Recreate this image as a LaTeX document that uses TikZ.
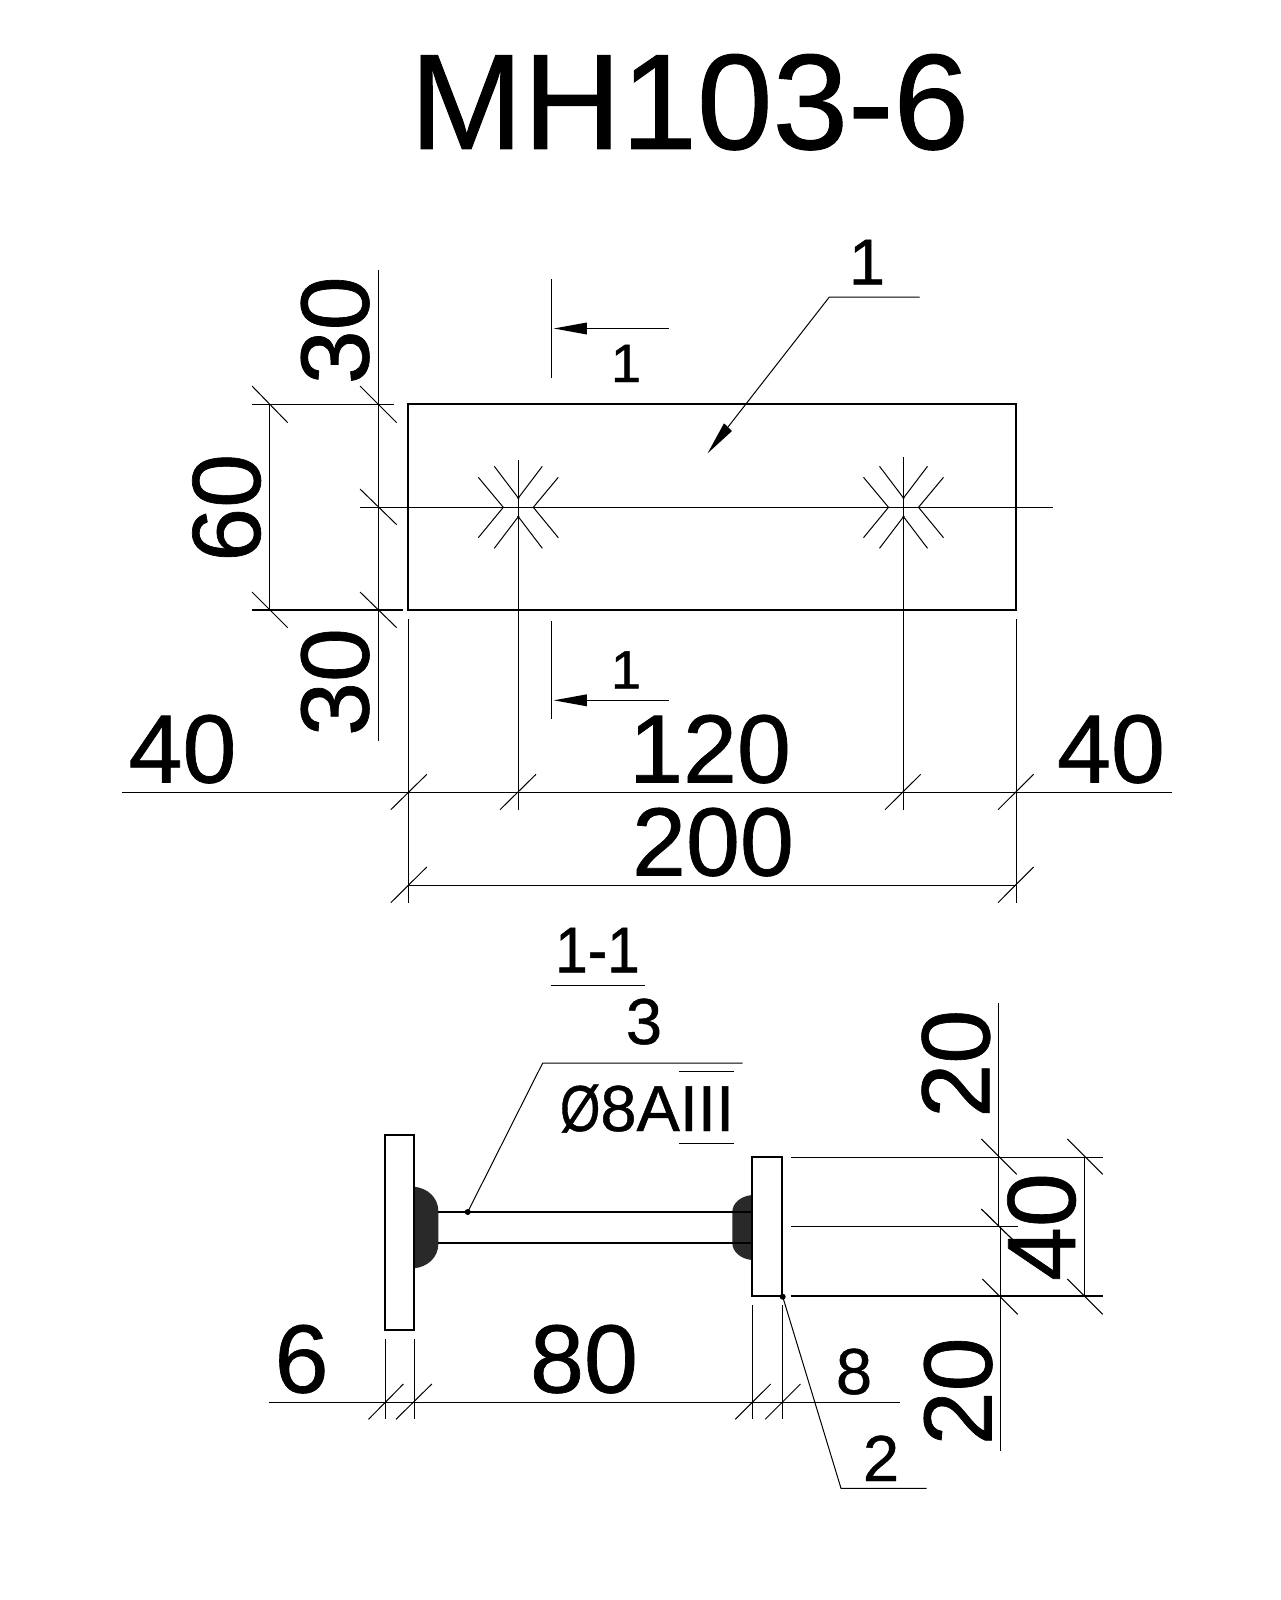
\documentclass[tikz,border=0pt]{standalone}
\usepackage{fontspec}
\setmainfont{Liberation Sans}
\usepackage{graphicx}
\newfontfamily\dwgfont[FakeBold=0.7]{Liberation Sans}
\tikzset{
  txt/.style={inner sep=0pt,anchor=base},
  titletxt/.style={txt,font=\dwgfont\fontsize{136}{136}\selectfont},
  bigtxt/.style={txt,font=\dwgfont\fontsize{97}{97}\selectfont},
  midtxt/.style={txt,font=\dwgfont\fontsize{65}{65}\selectfont},
  smalltxt/.style={txt,font=\dwgfont\fontsize{54}{54}\selectfont},
  vert/.style={rotate=90},
  thinln/.style={line width=1.2pt,black},
  hairln/.style={line width=1pt,black},
  part/.style={line width=2pt,black},
  rodln/.style={line width=1.6pt,black},
  weld/.style={fill=black!84,draw=none},
  tipfill/.style={fill=black,draw=none},
  dotfill/.style={fill=black,draw=none}
}
\begin{document}
\begin{tikzpicture}[x=1pt,y=-1pt]
\useasboundingbox (0,0) rectangle (1280,1600);
\fill[white] (0,0) rectangle (1280,1600);

% title
\node[titletxt] (title) at (689.5,149) {MH103-6};

% plate in plan
\draw[part] (408,404.3) rectangle (1016.4,610);

% axis lines
\draw[thinln] (360,507.3) -- (1053,507.3);
\draw[thinln] (518.3,460) -- (518.3,809.5);
\draw[thinln] (903.5,457) -- (903.5,809.5);

% hole marks
\foreach \cx in {518.3,903.5}{
  \begin{scope}[shift={(\cx,0)}]
    \draw[hairln] (-24,466.3) -- (0,498) -- (24,466.3);
    \draw[hairln] (-24,548.3) -- (0,516.7) -- (24,548.3);
    \draw[hairln] (-40,477.3) -- (-15,507.3) -- (-40,537.7);
    \draw[hairln] (40,477.3) -- (15,507.3) -- (40,537.7);
    \fill[dotfill] (0,498) circle (1.2);
    \fill[dotfill] (0,516.7) circle (1.2);
  \end{scope}
}

% left dimensions of the plan
\draw[thinln] (378.4,270) -- (378.4,740.7);
\draw[thinln] (269.3,404.3) -- (269.3,610);
\draw[thinln] (252,404.3) -- (394,404.3);
\draw[thinln] (252,610) -- (402.7,610);
\draw[hairln] (252,386) -- (287.7,422.7);
\draw[hairln] (360,386) -- (396.7,422.7);
\draw[hairln] (360,489) -- (396.7,524.7);
\draw[hairln] (252,592) -- (287.7,627.7);
\draw[hairln] (360,592) -- (396.7,627.7);
\node[bigtxt,vert] (d30a) at (368.5,330.3) {30};
\node[bigtxt,vert] (d60) at (260,507.8) {60};
\node[bigtxt,vert] (d30b) at (368.5,682) {30};

% section marks
\draw[thinln] (551.2,279.3) -- (551.2,377.7);
\draw[thinln] (586,328.5) -- (668.7,328.5);
\fill[tipfill] (553.8,328.5) -- (586.8,322.5) -- (586.8,334.5) -- cycle;
\node[smalltxt] (s1a) at (626,382) {1};
\draw[thinln] (551.2,621) -- (551.2,719.3);
\draw[thinln] (586,700.3) -- (669,700.3);
\fill[tipfill] (553.8,700.3) -- (586.8,694.3) -- (586.8,706.3) -- cycle;
\node[smalltxt] (s1b) at (626,688.5) {1};

% leader 1
\draw[hairln] (919.7,297.2) -- (829.2,297.2) -- (728,427);
\fill[tipfill] (707.6,453.3) -- (724,423.3) -- (732,431) -- cycle;
\node[midtxt] (l1) at (867,284.5) {1};

% bottom dimensions of the plan
\draw[thinln] (122,792.3) -- (1171.8,792.3);
\draw[thinln] (408.5,885.3) -- (1016.4,885.3);
\draw[thinln] (408.5,619) -- (408.5,902.7);
\draw[thinln] (1016.4,619) -- (1016.4,902.7);
\draw[hairln] (390.8,809.7) -- (426.8,774.3);
\draw[hairln] (500,809.7) -- (536,774.3);
\draw[hairln] (885,809.7) -- (920.7,774.3);
\draw[hairln] (998,809.7) -- (1033.6,774.3);
\draw[hairln] (390.8,902.7) -- (426.8,867);
\draw[hairln] (998,902.7) -- (1033.6,867);
\node[bigtxt] (d40a) at (182.5,782.5) {40};
\node[bigtxt] (d120) at (710,782.5) {120};
\node[bigtxt] (d40b) at (1111,782.5) {40};
\node[bigtxt] (d200) at (713,875.5) {200};

% section title
\node[midtxt] (sec) at (597.5,972.5) {\scalebox{.9}[1]{1-1}};
\draw[thinln] (551,985.3) -- (645,985.3);
\node[midtxt] (n3) at (644,1044) {3};

% rod leader and label
\draw[hairln] (742.7,1063) -- (542.7,1063) -- (467.7,1212);
\fill[dotfill] (467.7,1212) circle (3);
\node[midtxt] (rebar) at (647,1131) {\scalebox{.8}[1]{Ø}8AIII};
\draw[thinln] (679.3,1071.3) -- (734,1071.3);
\draw[thinln] (679.3,1143.3) -- (734,1143.3);

% welds
\fill[weld] (414,1186.7) .. controls (428,1188) and (438.3,1198) .. (438.3,1211)
  -- (438.3,1244) .. controls (438.3,1257) and (428,1267) .. (414,1268.3) -- cycle;
\fill[weld] (752,1195) .. controls (741,1196) and (732.3,1203) .. (732.3,1212)
  -- (732.3,1243) .. controls (732.3,1252) and (741,1259) .. (752,1260) -- cycle;

% rod
\draw[rodln] (438,1211.7) -- (752,1211.7);
\draw[rodln] (438,1243) -- (752,1243);

% end plates
\draw[part,fill=white] (385,1135) rectangle (414,1330);
\draw[part,fill=white] (752,1156.7) rectangle (782.3,1295.7);

% bottom dimensions of the section
\draw[thinln] (268.8,1402.3) -- (900,1402.3);
\draw[thinln] (385.4,1339) -- (385.4,1419.3);
\draw[thinln] (414.4,1339) -- (414.4,1419.3);
\draw[thinln] (752.3,1305) -- (752.3,1419.3);
\draw[thinln] (782.6,1305) -- (782.6,1419.3);
\draw[hairln] (368.5,1419.3) -- (403.4,1384);
\draw[hairln] (396,1419.3) -- (431.8,1384);
\draw[hairln] (735.3,1419.3) -- (770.7,1384);
\draw[hairln] (765.2,1419.3) -- (800.5,1384);
\node[bigtxt] (d6) at (301.6,1392.5) {6};
\node[bigtxt] (d80) at (584,1392.5) {80};
\node[midtxt] (d8) at (854,1394) {8};

% leader 2
\draw[hairln] (782.7,1296.7) -- (841,1488.3) -- (926.7,1488.3);
\fill[dotfill] (782.7,1296.7) circle (3);
\node[midtxt] (n2) at (881,1481) {2};

% right dimensions of the section
\draw[thinln] (998.7,1003.3) -- (998.7,1226.3);
\draw[thinln] (1000.3,1226.3) -- (1000.3,1450.7);
\draw[thinln] (1084.3,1157.3) -- (1084.3,1296);
\draw[thinln] (791,1157.3) -- (1102.7,1157.3);
\draw[thinln] (791,1226.3) -- (1017.7,1226.3);
\draw[thinln] (791,1296) -- (1102.7,1296);
\draw[hairln] (981.3,1139) -- (1016.7,1174.3);
\draw[hairln] (1067.3,1139) -- (1102.7,1174.3);
\draw[thinln] (981.3,1209) -- (1013,1240);
\draw[hairln] (982.3,1279) -- (1017.7,1314.3);
\draw[hairln] (1067.3,1279) -- (1102.7,1314.3);
\node[bigtxt,vert] (r20a) at (989.3,1063.7) {20};
\node[bigtxt,vert] (r40) at (1075,1227) {40};
\node[bigtxt,vert] (r20b) at (991.5,1391.3) {20};
\end{tikzpicture}
\end{document}
